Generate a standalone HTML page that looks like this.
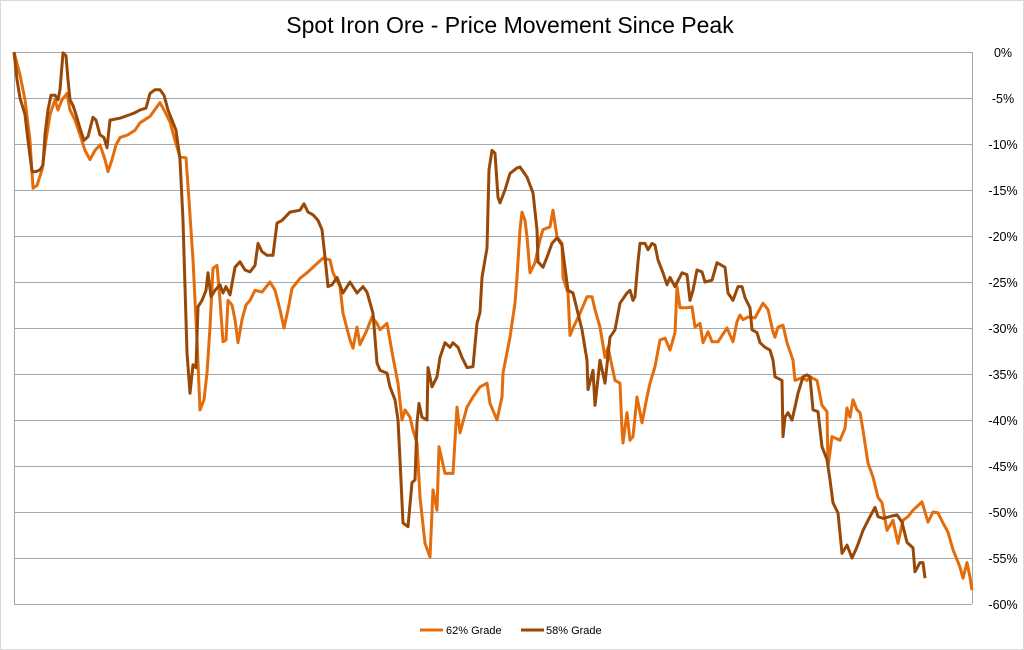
<!DOCTYPE html>
<html><head><meta charset="utf-8"><style>
body{margin:0;background:#fff;}
svg{display:block;font-family:"Liberation Sans",sans-serif;}
</style></head><body>
<svg id="chart" width="1024" height="650" viewBox="0 0 1024 650">
<rect x="0.5" y="0.5" width="1023" height="649" fill="#fff" stroke="#d9d9d9"/>
<text x="510" y="33" text-anchor="middle" font-size="23" fill="#000">Spot Iron Ore - Price Movement Since Peak</text>
<g id="grid"></g>
<g id="ticks"></g>
<g id="series"></g>
<g>
<line x1="420" y1="630" x2="443" y2="630" stroke="#E46C0A" stroke-width="3"/>
<text x="446" y="634" font-size="11" fill="#000">62% Grade</text>
<line x1="521" y1="630" x2="544" y2="630" stroke="#984807" stroke-width="3"/>
<text x="546" y="634" font-size="11" fill="#000">58% Grade</text>
</g>
</svg>
<script>
const yTicks=[0,-5,-10,-15,-20,-25,-30,-35,-40,-45,-50,-55,-60];
const yTickLabels=["0%","-5%","-10%","-15%","-20%","-25%","-30%","-35%","-40%","-45%","-50%","-55%","-60%"];
const days62=[0,6,11,16,19,23,28,32,36,41,44,48,53,56,61,66,71,76,81,86,91,94,98,102,106,114,121,126,136,146,151,156,161,166,172,175,179,183,186,190,193,196,199,203,206,209,212,214,218,221,224,228,232,236,241,248,256,261,266,270,274,278,286,294,301,309,316,319,326,329,336,339,343,346,353,358,363,366,373,379,384,388,391,396,399,403,406,411,416,419,423,425,431,439,443,446,453,459,466,473,476,483,488,489,496,498,501,503,506,508,511,513,516,521,526,529,536,539,543,548,549,554,556,559,566,573,578,581,586,591,594,601,606,608,609,613,616,619,623,628,633,636,641,646,651,656,661,663,666,673,678,681,686,689,694,698,704,713,719,723,726,729,734,741,749,754,759,761,764,769,773,779,781,788,793,796,803,808,813,814,818,826,831,833,836,839,843,846,849,854,859,864,868,873,879,884,889,894,899,908,914,919,924,929,934,939,946,949,953,956,958];
const vals62=[0,-2.5,-5.2,-9.6,-14.8,-14.5,-12.8,-9.6,-6.8,-5.2,-6.3,-5.2,-4.5,-6.3,-7.4,-9.0,-10.7,-11.7,-10.7,-10.1,-11.7,-13.0,-11.7,-10.1,-9.3,-9.0,-8.5,-7.7,-7.0,-5.5,-6.5,-7.6,-9.6,-11.4,-11.5,-16.1,-22.6,-31.3,-38.9,-37.8,-34.9,-29.9,-23.5,-23.2,-27.0,-31.5,-31.3,-27.0,-27.5,-29.1,-31.6,-29.1,-27.5,-27.0,-25.9,-26.1,-25.0,-25.9,-28.0,-30.0,-28.0,-25.7,-24.6,-23.9,-23.2,-22.4,-22.6,-24.0,-25.5,-28.4,-31.3,-32.2,-29.9,-31.8,-30.2,-28.8,-29.5,-30.2,-29.5,-33.2,-36.0,-40.0,-38.9,-39.7,-41.1,-42.5,-48.4,-53.4,-54.9,-47.6,-49.8,-42.9,-45.8,-45.8,-38.6,-41.4,-38.6,-37.5,-36.4,-36.0,-38.2,-40.0,-37.5,-34.9,-31.0,-29.5,-27.3,-24.5,-19.3,-17.4,-18.3,-20.1,-24.0,-22.9,-20.4,-19.3,-19.0,-17.2,-20.1,-20.8,-24.5,-26.2,-30.8,-30.0,-28.4,-26.6,-26.6,-28.0,-29.9,-33.2,-32.1,-35.7,-36.0,-41.1,-42.5,-39.2,-42.2,-41.8,-37.5,-40.3,-37.5,-36.0,-34.2,-31.3,-31.1,-32.4,-30.5,-25.5,-27.8,-27.8,-27.7,-29.9,-29.5,-31.6,-30.4,-31.5,-31.5,-30.0,-31.5,-29.3,-28.6,-29.1,-28.8,-28.9,-27.3,-28.0,-30.4,-31.0,-29.9,-29.7,-31.6,-33.5,-35.7,-35.4,-35.7,-35.3,-35.7,-38.4,-39.1,-45.1,-41.8,-42.2,-40.9,-38.7,-39.7,-37.8,-38.9,-39.2,-41.1,-44.7,-46.2,-48.4,-49.0,-52.0,-50.9,-53.4,-50.9,-50.5,-49.8,-48.9,-51.1,-50.0,-50.1,-51.2,-52.2,-54.1,-56.0,-57.2,-55.5,-57.1,-58.5];
const days58=[0,3,6,11,14,18,22,26,29,31,34,37,41,44,46,49,52,54,56,59,62,66,70,74,79,82,86,90,93,96,106,116,121,126,132,136,141,146,150,154,158,162,166,169,173,176,179,182,184,188,192,194,197,201,206,209,212,216,221,226,231,236,241,244,248,253,259,263,268,276,286,290,294,299,304,308,311,314,318,323,329,336,343,349,353,359,363,366,373,376,381,384,386,389,394,398,401,403,405,408,413,414,418,423,426,431,436,439,444,448,453,459,463,466,468,473,475,478,481,484,486,491,496,503,506,513,519,523,524,529,533,538,543,548,554,559,568,573,574,579,581,586,591,596,601,606,613,616,619,621,624,626,631,634,638,641,644,649,653,656,661,668,673,676,679,683,688,691,698,703,711,714,719,724,728,731,736,738,743,746,751,756,759,761,768,769,771,774,778,781,784,789,793,796,799,804,808,813,816,819,824,828,833,838,843,849,856,861,864,869,876,883,888,893,899,901,906,909,911];
const vals58=[0,-3.0,-5.0,-6.8,-9.6,-13.0,-13.0,-12.8,-12.3,-9.0,-6.3,-4.7,-4.7,-5.2,-4.1,-0.1,-0.4,-3.0,-5.2,-5.8,-6.8,-8.3,-9.6,-9.2,-7.1,-7.4,-9.0,-9.3,-10.4,-7.4,-7.2,-6.8,-6.6,-6.3,-6.1,-4.5,-4.1,-4.1,-4.7,-6.3,-7.4,-8.5,-11.7,-18.3,-32.7,-37.1,-34.0,-34.3,-27.7,-27.0,-25.9,-24.0,-26.6,-25.9,-25.3,-26.2,-25.5,-26.4,-23.4,-22.8,-23.7,-23.9,-23.2,-20.8,-21.7,-22.1,-22.1,-18.6,-18.3,-17.4,-17.2,-16.5,-17.4,-17.7,-18.3,-19.3,-22.3,-25.5,-25.3,-24.5,-26.2,-25.0,-26.2,-25.5,-26.1,-28.4,-33.8,-34.6,-34.9,-36.4,-37.8,-40.0,-44.3,-51.2,-51.6,-46.8,-46.5,-40.3,-38.2,-39.7,-40.0,-34.3,-36.4,-35.3,-33.2,-31.6,-32.1,-31.6,-32.1,-33.2,-34.3,-34.2,-29.5,-28.3,-24.5,-21.3,-12.8,-10.7,-11.0,-15.8,-16.4,-15.0,-13.2,-12.6,-12.5,-13.6,-15.3,-19.3,-22.8,-23.4,-22.3,-20.8,-20.2,-21.0,-25.9,-26.2,-30.2,-33.5,-36.7,-34.6,-38.4,-33.5,-36.0,-31.0,-30.2,-27.3,-26.2,-25.9,-27.0,-26.6,-22.8,-20.8,-20.8,-21.5,-20.8,-21.0,-22.6,-24.0,-25.3,-24.5,-25.5,-24.0,-24.2,-27.0,-25.9,-23.7,-23.9,-25.0,-24.8,-22.9,-23.4,-26.2,-27.0,-25.5,-25.5,-26.7,-27.8,-30.2,-30.5,-31.6,-32.1,-32.4,-33.5,-35.3,-35.7,-41.8,-39.7,-39.2,-40.0,-38.6,-37.1,-35.3,-35.1,-35.3,-38.9,-39.1,-42.9,-44.3,-46.5,-49.0,-50.1,-54.5,-53.6,-55.0,-53.8,-52.0,-50.5,-49.5,-50.5,-50.7,-50.5,-50.3,-51.1,-53.3,-53.9,-56.5,-55.5,-55.5,-57.2];

const NS='http://www.w3.org/2000/svg';
const X0=14,X1=972,Y0=52,Y1=604,DMAX=958;
function xs(d){return X0+(d/DMAX)*(X1-X0);}
function ys(v){return Y0+(-v/60)*(Y1-Y0);}
const grid=document.getElementById('grid'),ticks=document.getElementById('ticks'),ser=document.getElementById('series');
yTicks.forEach((t,i)=>{
  const l=document.createElementNS(NS,'line');
  l.setAttribute('x1',X0);l.setAttribute('x2',X1);
  l.setAttribute('y1',ys(t)+0.5);l.setAttribute('y2',ys(t)+0.5);
  l.setAttribute('stroke',t===-60?'#a6a6a6':'#a6a6a6');l.setAttribute('stroke-width','1');
  
  
  grid.appendChild(l);
  const tx=document.createElementNS(NS,'text');
  tx.setAttribute('x',1003);tx.setAttribute('y',ys(t)+5);
  tx.setAttribute('text-anchor','middle');tx.setAttribute('font-size','12.5');
  tx.textContent=yTickLabels[i];
  
  
  ticks.appendChild(tx);
});
[X0,X1].forEach(x=>{
  const a=document.createElementNS(NS,'line');
  a.setAttribute('x1',x+0.5);a.setAttribute('x2',x+0.5);a.setAttribute('y1',Y0);a.setAttribute('y2',Y1);
  a.setAttribute('stroke','#a6a6a6');
  
  
  grid.appendChild(a);
});
function draw(days,vals,color,name){
  const p=document.createElementNS(NS,'polyline');
  p.setAttribute('points',days.map((d,i)=>xs(d).toFixed(1)+','+ys(vals[i]).toFixed(1)).join(' '));
  p.setAttribute('fill','none');p.setAttribute('stroke',color);p.setAttribute('stroke-width','3');
  p.setAttribute('stroke-linejoin','round');
  
  
  ser.appendChild(p);
}
draw(days62,vals62,'#E46C0A','series-62-grade');
draw(days58,vals58,'#984807','series-58-grade');
</script>
</body></html>
